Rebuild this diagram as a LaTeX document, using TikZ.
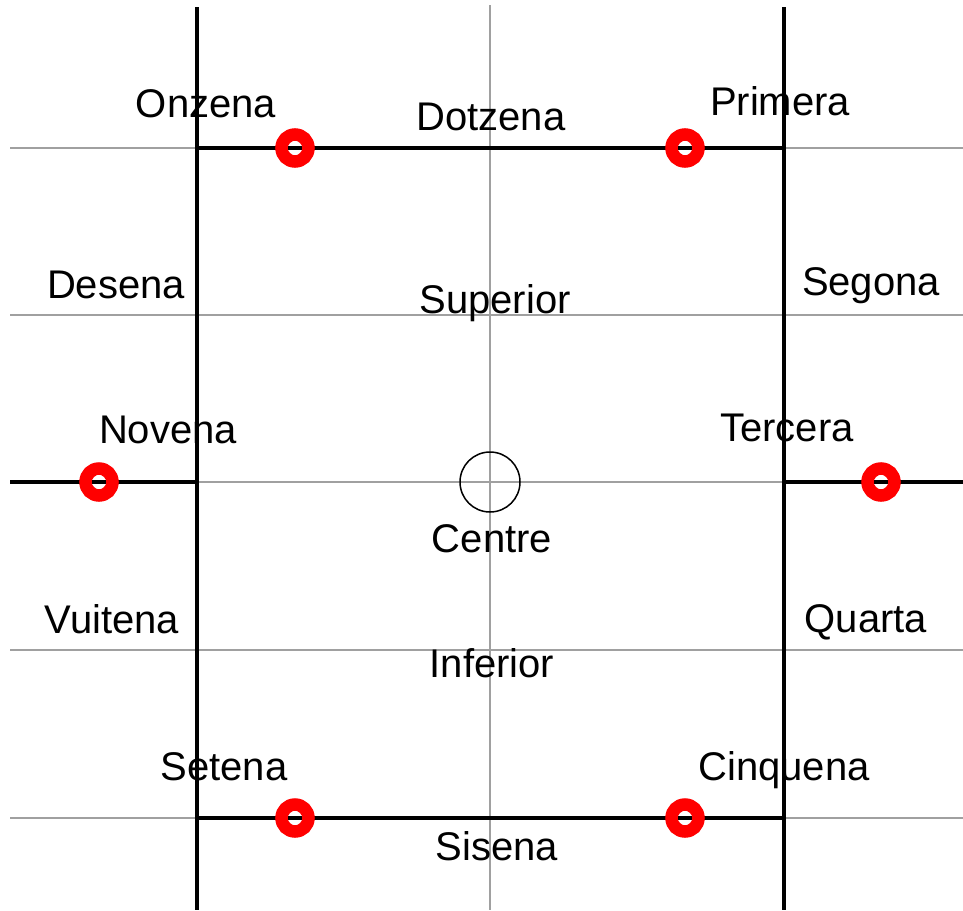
\documentclass[tikz,border=0pt]{standalone}
\usepackage{fontspec}
\setmainfont{Liberation Sans}
\usepackage{tikz}
\usetikzlibrary{positioning}
\definecolor{GridGray}{RGB}{160,160,160}
\definecolor{PostRed}{RGB}{255,0,0}

\begin{document}
\begin{tikzpicture}[x=1pt, y=-1pt,
          gridline/.style={GridGray, line width=1.6pt},
          wall/.style={black, line width=3.2pt},
          post/.style={circle, draw=PostRed, line width=12.5pt,
                       minimum size=27pt, inner sep=0pt},
          centremark/.style={circle, draw=black, line width=1.5pt,
                             minimum size=60pt, inner sep=0pt},
          lbl/.style={anchor=base, inner sep=0pt,
                      font=\fontsize{40}{48}\selectfont}
        ]
        \useasboundingbox (0,0) rectangle (963,910);

        % Grid lines
        \foreach \yy in {148, 315, 482, 650, 818}
          \draw[gridline] (10,\yy) -- (963,\yy);
        \draw[gridline] (490,5) -- (490,910);

        % Corners and wall ends
        \coordinate (tl) at (197,148);
        \coordinate (tr) at (784,148);
        \coordinate (bl) at (197,818);
        \coordinate (br) at (784,818);
        \coordinate (ml) at (197,482);
        \coordinate (mr) at (784,482);
        \coordinate (wl) at (10,482);
        \coordinate (wr) at (963,482);
        \coordinate (lt) at (197,7);
        \coordinate (lb) at (197,910);
        \coordinate (rt) at (784,7);
        \coordinate (rb) at (784,910);

        % Walls
        \draw[wall] (lt) -- (lb);
        \draw[wall] (rt) -- (rb);
        \draw[wall] (tl) -- (tr);
        \draw[wall] (bl) -- (br);
        \draw[wall] (wl) -- (ml);
        \draw[wall] (mr) -- (wr);

        % Centre
        \node[centremark] (C) at (490,482) {};

        % Posts
        \node[post] (p1) at (295,148) {};
        \node[post] (p2) at (685,148) {};
        \node[post] (p3) at (99,482) {};
        \node[post] (p4) at (881,482) {};
        \node[post] (p5) at (295,818) {};
        \node[post] (p6) at (685,818) {};

        % Labels
        \node[lbl] (onzena)   at (206,117) {Onzena};
        \node[lbl] (dotzena)  at (491,130) {Dotzena};
        \node[lbl] (primera)  at (780,115) {Primera};
        \node[lbl] (desena)   at (116,298) {Desena};
        \node[lbl] (superior) at (495,313) {Superior};
        \node[lbl] (segona)   at (871,295) {Segona};
        \node[lbl] (novena)   at (168,443) {Novena};
        \node[lbl] (tercera)  at (787,441) {Tercera};
        \node[lbl] (centre)   at (492,552) {Centre};
        \node[lbl] (vuitena)  at (112,633) {Vuitena};
        \node[lbl] (inferior) at (492,677) {Inferior};
        \node[lbl] (quarta)   at (866,632) {Quarta};
        \node[lbl] (setena)   at (224,780) {Setena};
        \node[lbl] (cinquena) at (784,780) {Cinquena};
        \node[lbl] (sisena)   at (497,860) {Sisena};
      \end{tikzpicture}
\end{document}
